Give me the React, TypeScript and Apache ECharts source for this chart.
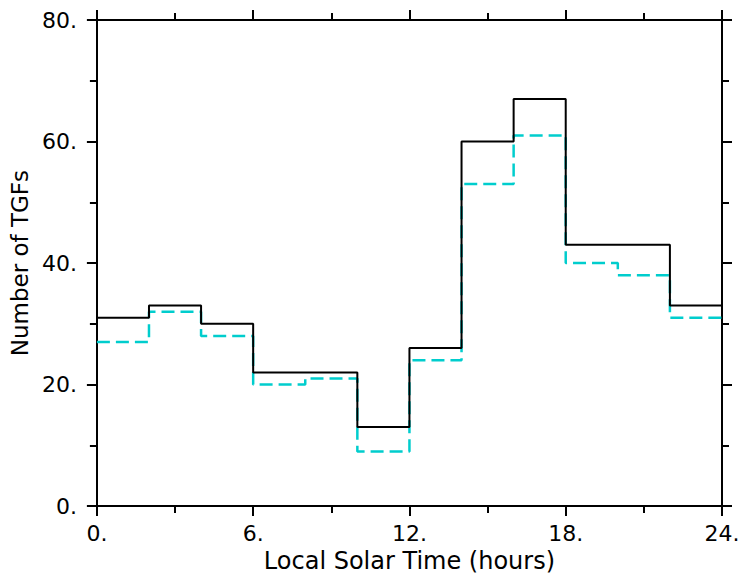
import React, { useEffect, useRef } from "react";
import * as echarts from "echarts";

const binEdges = [0, 2, 4, 6, 8, 10, 12, 14, 16, 18, 20, 22, 24];
const allTGFs = [31, 33, 30, 22, 22, 13, 26, 60, 67, 43, 43, 33];
const subsetTGFs = [27, 32, 28, 20, 21, 9, 24, 53, 61, 40, 38, 31];
const xTicks = [0, 6, 12, 18, 24];
const yTicks = [0, 20, 40, 60, 80];

const FONT = "DejaVu Sans";

function stepPoints(vals: number[]) {
  const pts: number[][] = vals.map((v, i) => [binEdges[i], v]);
  pts.push([binEdges[binEdges.length - 1], vals[vals.length - 1]]);
  return pts;
}

function mkX(position: "bottom" | "top", showLabels: boolean): any {
  return {
    type: "value",
    position,
    min: xTicks[0],
    max: xTicks[xTicks.length - 1],
    interval: 6,
    name: showLabels ? "Local Solar Time (hours)" : "",
    nameLocation: "middle",
    nameGap: 42,
    nameTextStyle: { fontFamily: FONT, fontSize: 24, color: "#000" },
    axisLine: { show: true, onZero: false, lineStyle: { color: "#000", width: 2 } },
    axisTick: { show: true, inside: false, length: 10, lineStyle: { color: "#000", width: 2 } },
    minorTick: { show: true, splitNumber: 2, length: 7, lineStyle: { color: "#000", width: 2 } },
    splitLine: { show: false },
    minorSplitLine: { show: false },
    axisLabel: {
      show: showLabels,
      margin: 16,
      fontFamily: FONT,
      fontSize: 22,
      color: "#000",
      formatter: (v: number) => `${v}.`,
    },
  };
}

function mkY(position: "left" | "right", showLabels: boolean): any {
  return {
    type: "value",
    position,
    min: yTicks[0],
    max: yTicks[yTicks.length - 1],
    interval: 20,
    name: showLabels ? "Number of TGFs" : "",
    nameLocation: "middle",
    nameGap: 63,
    nameTextStyle: { fontFamily: FONT, fontSize: 23, color: "#000" },
    axisLine: { show: true, onZero: false, lineStyle: { color: "#000", width: 2 } },
    axisTick: { show: true, inside: false, length: 10, lineStyle: { color: "#000", width: 2 } },
    minorTick: { show: true, splitNumber: 2, length: 7, lineStyle: { color: "#000", width: 2 } },
    splitLine: { show: false },
    minorSplitLine: { show: false },
    axisLabel: {
      show: showLabels,
      margin: 20,
      fontFamily: FONT,
      fontSize: 22,
      color: "#000",
      formatter: (v: number) => `${v}.`,
    },
  };
}

export default function App() {
  const ref = useRef<HTMLDivElement>(null);
  useEffect(() => {
    if (!ref.current) return;
    const chart = echarts.init(ref.current, undefined, { renderer: "svg" });
    chart.setOption({
      animation: false,
      backgroundColor: "#fff",
      grid: { left: 94, right: 21, top: 20, bottom: 71, containLabel: false },
      xAxis: [mkX("bottom", true), mkX("top", false)],
      yAxis: [mkY("left", true), mkY("right", false)],
      series: [
        {
          name: "subset",
          type: "line",
          step: "end",
          xAxisIndex: 0,
          yAxisIndex: 0,
          data: stepPoints(subsetTGFs),
          showSymbol: false,
          symbol: "none",
          lineStyle: { color: "#00CDCD", width: 2.5, type: [13, 6] },
          z: 2,
        },
        {
          name: "all",
          type: "line",
          step: "end",
          xAxisIndex: 0,
          yAxisIndex: 0,
          data: stepPoints(allTGFs),
          showSymbol: false,
          symbol: "none",
          lineStyle: { color: "#000", width: 2 },
          z: 3,
        },
      ],
    });
    return () => chart.dispose();
  }, []);
  return <div ref={ref} style={{ width: 743, height: 578, position: "absolute", left: 0, top: 0 }} />;
}
